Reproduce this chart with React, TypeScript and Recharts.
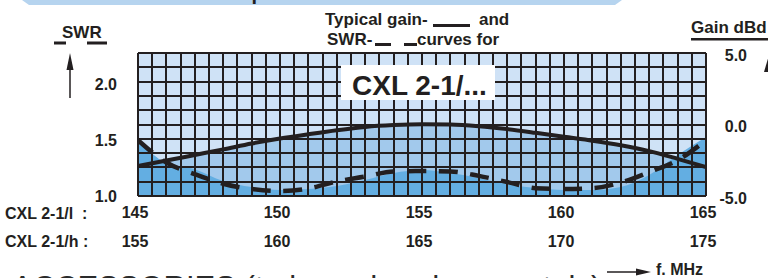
import { ComposedChart, Area, Line, XAxis, YAxis, CartesianGrid } from 'recharts';

const freqs = [145, 146, 147, 148, 149, 150, 151, 152, 153, 154, 155, 156, 157, 158, 159, 160, 161, 162, 163, 164, 165];
const gainDbd = [-2.9, -2.52, -2.13, -1.74, -1.33, -0.98, -0.68, -0.4, -0.17, -0.04, 0.02, 0.0, -0.12, -0.32, -0.58, -0.86, -1.13, -1.45, -1.86, -2.4, -2.97];
const swrValues = [1.5, 1.3, 1.196, 1.11, 1.063, 1.045, 1.067, 1.13, 1.174, 1.22, 1.223, 1.22, 1.18, 1.125, 1.07, 1.063, 1.07, 1.12, 1.214, 1.32, 1.5];
// lower (dark) shaded band edge, a little smoother than the dashed SWR curve
const swrShade = [1.5, 1.295, 1.24, 1.134, 1.08, 1.054, 1.063, 1.09, 1.143, 1.205, 1.232, 1.205, 1.16, 1.107, 1.071, 1.054, 1.054, 1.08, 1.188, 1.366, 1.527];

const ticksLow = [145, 150, 155, 160, 165];   // CXL 2-1/l
const ticksHigh = [155, 160, 165, 170, 175];  // CXL 2-1/h
const swrTicks = [1.0, 1.5, 2.0];
const gainTicks = [-5, 0, 5];
const freqDomain = [145, 165];
const gainDomain = [-5, 5];

const FONT = '"Liberation Sans", Arial, Helvetica, sans-serif';
const INK = '#231f20';
const LIGHT = '#cfe2f6';
const MEDIUM = '#a2c9ec';
const DARK = '#63aee2';

const data = freqs.map((f, i) => ({ f, gain: gainDbd[i], swr: swrValues[i], shade: swrShade[i] }));

// grid cells: 0.5 MHz wide, 1 dB tall
const gridX = Array.from({ length: 41 }, (_, i) => 145 + i * 0.5);
const gridY = Array.from({ length: 11 }, (_, i) => -5 + i);

function scaleOf(axis: any, v: number, fallback: () => number) {
  const s = axis?.scale;
  if (typeof s === 'function') return s(v);
  if (s && typeof s.map === 'function') return s.map(v);
  return fallback();
}

const tickStyle = { fontSize: 16, fontWeight: 700, fill: INK, fontFamily: FONT };

function FreqTick(props: any) {
  const { x, y, payload, index } = props;
  return (
    <g>
      <text x={x - 3} y={y} dy="0.71em" textAnchor="middle" {...tickStyle}>{payload.value}</text>
      <text x={x - 3} y={y + 29} dy="0.71em" textAnchor="middle" {...tickStyle}>{ticksHigh[index]}</text>
    </g>
  );
}

function GainTick(props: any) {
  const { x, y, payload } = props;
  return (
    <text x={x + 41} y={y + 2} textAnchor="end" dominantBaseline="central" {...tickStyle}>
      {Number(payload.value).toFixed(1)}
    </text>
  );
}

function Overlay() {
  const t = { fontFamily: FONT, fontWeight: 700, fill: INK };
  return (
    <svg width={768} height={278} style={{ position: 'absolute', left: 0, top: 0, pointerEvents: 'none' }}>
      <polygon points="22,0 622,0 615,5 29,5" fill="#b6d4ef" />
      <text x={217} y={0} fontSize={20} {...t}>Graph</text>

      <text x={325} y={25} fontSize={17} {...t}>Typical gain-</text>
      <rect x={433} y={24} width={37} height={3} fill={INK} />
      <text x={479} y={25} fontSize={17} {...t}>and</text>
      <text x={327} y={45} fontSize={17} {...t}>SWR-</text>
      <rect x={375} y={43} width={16} height={3} fill={INK} />
      <rect x={404} y={43} width={13} height={3} fill={INK} />
      <text x={417} y={45} fontSize={17} {...t}>curves for</text>

      <text x={62} y={38} fontSize={17} {...t}>SWR</text>
      <rect x={54} y={41.5} width={12} height={3} fill={INK} />
      <rect x={87} y={41.5} width={20} height={3} fill={INK} />
      <line x1={70} y1={98} x2={70} y2={66} stroke={INK} strokeWidth={1.5} />
      <polygon points="70,53 66.5,70 73.5,70" fill={INK} />

      <text x={691} y={33} fontSize={17} {...t}>Gain dBd</text>
      <rect x={691} y={38} width={77} height={2.5} fill={INK} />
      <polygon points="769,55 764,72 774,72" fill={INK} />

      <rect x={341} y={65} width={154} height={35} fill="#ffffff" />
      <text x={352} y={95} fontSize={28} {...t}>CXL 2-1/...</text>

      <text x={5} y={218.5} fontSize={16} style={{ whiteSpace: 'pre' }} {...t}>{'CXL 2-1/l  :'}</text>
      <text x={5} y={247} fontSize={16} style={{ whiteSpace: 'pre' }} {...t}>{'CXL 2-1/h :'}</text>

      <line x1={607} y1={272} x2={640} y2={272} stroke={INK} strokeWidth={1.5} />
      <polygon points="636,268.5 651,272 636,275.5" fill={INK} />
      <text x={656} y={275} fontSize={16} {...t}>f. MHz</text>

      <text x={12} y={298} fontSize={31} fontFamily={FONT} fill="#2b2b2b">ACCESSORIES (to be ordered separately)</text>
    </svg>
  );
}

export default function App() {
  return (
    <div style={{ position: 'absolute', left: 0, top: 0, width: 768, height: 278, overflow: 'hidden', background: '#fff' }}>
      <ComposedChart width={768} height={278} data={data} margin={{ top: 53, right: 0, bottom: 24, left: 0 }}>
        <XAxis dataKey="f" type="number" domain={freqDomain} ticks={ticksLow} allowDataOverflow
          axisLine={false} tickLine={false} tickSize={0} tickMargin={11} height={58} tick={<FreqTick />} />
        <YAxis yAxisId="swr" type="number" domain={[1, 2.28]} ticks={swrTicks} allowDataOverflow
          axisLine={false} tickLine={false} tickSize={0} tickMargin={21} width={138}
          tickFormatter={(v: number) => v.toFixed(1)} tick={tickStyle} />
        <YAxis yAxisId="gain" orientation="right" type="number" domain={gainDomain} ticks={gainTicks} allowDataOverflow
          axisLine={false} tickLine={false} tickSize={0} tickMargin={0} width={62} tick={<GainTick />} />

        <CartesianGrid yAxisId="gain" fill={LIGHT} stroke="none" horizontal={false} vertical={false} />
        <Area yAxisId="gain" dataKey="gain" type="monotone" stroke="none" fill={MEDIUM} fillOpacity={1}
          baseValue={-5} isAnimationActive={false} />
        <Area yAxisId="swr" dataKey="shade" type="monotone" stroke="none" fill={DARK} fillOpacity={1}
          baseValue={1} isAnimationActive={false} />
        <CartesianGrid yAxisId="gain" stroke={INK} strokeWidth={2} fillOpacity={0} zIndex={150}
          shapeRendering="crispEdges"
          verticalCoordinatesGenerator={({ xAxis, offset }: any) => gridX.map((v) => scaleOf(xAxis, v,
            () => offset.left + (offset.width * (v - freqDomain[0])) / (freqDomain[1] - freqDomain[0])))}
          horizontalCoordinatesGenerator={({ yAxis, offset }: any) => gridY.map((v) => scaleOf(yAxis, v,
            () => offset.top + (offset.height * (gainDomain[1] - v)) / (gainDomain[1] - gainDomain[0])))} />
        <Line yAxisId="gain" dataKey="gain" type="monotone" stroke={INK} strokeWidth={4}
          dot={false} activeDot={false} isAnimationActive={false} />
        <Line yAxisId="swr" dataKey="swr" type="monotone" stroke={INK} strokeWidth={4.5}
          strokeDasharray="19 12.5" dot={false} activeDot={false} isAnimationActive={false} />
      </ComposedChart>
      <Overlay />
    </div>
  );
}
